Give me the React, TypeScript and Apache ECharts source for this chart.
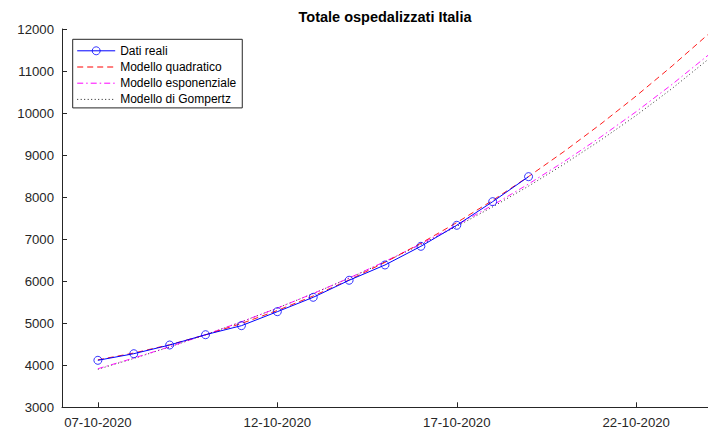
import React, { useEffect, useRef } from 'react';
import * as echarts from 'echarts';

const dates = [
  '06-10-2020', '07-10-2020', '08-10-2020', '09-10-2020', '10-10-2020', '11-10-2020',
  '12-10-2020', '13-10-2020', '14-10-2020', '15-10-2020', '16-10-2020', '17-10-2020',
  '18-10-2020', '19-10-2020', '20-10-2020', '21-10-2020', '22-10-2020', '23-10-2020',
  '24-10-2020',
];

const realData = [null, 4118, 4275, 4482, 4727, 4942, 5275, 5617, 6022, 6386, 6830, 7330, 7892, 8487, null, null, null, null, null];
const quadModel = [null, 4130, 4291, 4489, 4723, 4994, 5303, 5648, 6030, 6448, 6903, 7395, 7923, 8490, 9092, 9731, 10407, 11120, 11870];
const expModel = [null, 3918, 4171, 4441, 4728, 5034, 5360, 5707, 6076, 6469, 6888, 7334, 7808, 8313, 8851, 9424, 10034, 10683, 11374];
const gompModel = [null, 3905, 4162, 4436, 4726, 5034, 5361, 5706, 6072, 6460, 6870, 7305, 7768, 8262, 8790, 9350, 9945, 10585, 11275];

const seriesNames = ['Dati reali', 'Modello quadratico', 'Modello esponenziale', 'Modello di Gompertz'];
const titleText = 'Totale ospedalizzati Italia';

const FONT = '"Liberation Sans", Arial, Helvetica, sans-serif';
const AXIS = '#262626';

export default function App() {
  const ref = useRef<HTMLDivElement>(null);
  useEffect(() => {
    const chart = echarts.init(ref.current as HTMLDivElement, null, { renderer: 'svg' });
    const showTick = (i: number) => i >= 1 && (i - 1) % 5 === 0;
    chart.setOption({
      animation: false,
      backgroundColor: '#ffffff',
      textStyle: { fontFamily: FONT },
      title: {
        text: titleText,
        left: 385,
        top: 9.5,
        padding: 0,
        textAlign: 'center',
        textStyle: { fontFamily: FONT, fontSize: 14.5, fontWeight: 'bold', color: '#000000' },
      },
      grid: { left: 62, right: -5.3, top: 29, bottom: 24.7, containLabel: false },
      legend: {
        orient: 'vertical',
        left: 72.7,
        top: 39.3,
        data: [
          {
            name: seriesNames[0],
            itemStyle: { color: 'rgba(255,255,255,0)', borderColor: '#0000ff', borderWidth: 0.8 },
            lineStyle: { width: 1 },
          },
          { name: seriesNames[1], itemStyle: { opacity: 0 }, lineStyle: { width: 1 } },
          { name: seriesNames[2], itemStyle: { opacity: 0 }, lineStyle: { width: 1 } },
          { name: seriesNames[3], itemStyle: { opacity: 0 }, lineStyle: { width: 0.9 } },
        ],
        backgroundColor: '#ffffff',
        borderColor: AXIS,
        borderWidth: 1,
        padding: [5.5, 6, 2.5, 4],
        itemWidth: 38,
        itemHeight: 10,
        itemGap: 4.2,
        textStyle: { fontFamily: FONT, fontSize: 12, color: '#000000' },
      },
      xAxis: {
        type: 'category',
        data: dates,
        boundaryGap: false,
        axisLine: { show: true, lineStyle: { color: AXIS, width: 1 } },
        axisTick: { show: true, inside: true, length: 5, interval: (i: number) => showTick(i), lineStyle: { color: AXIS } },
        axisLabel: { interval: (i: number) => showTick(i), margin: 9, fontSize: 13.2, color: AXIS, fontFamily: FONT },
        splitLine: { show: false },
      },
      yAxis: {
        type: 'value',
        min: 3000,
        max: 12000,
        interval: 1000,
        axisLine: { show: true, lineStyle: { color: AXIS, width: 1 } },
        axisTick: { show: true, inside: true, length: 5, lineStyle: { color: AXIS } },
        axisLabel: { margin: 8, fontSize: 13.2, color: AXIS, fontFamily: FONT, formatter: (v: number) => String(v) },
        splitLine: { show: false },
      },
      series: [
        {
          name: seriesNames[0],
          type: 'line',
          data: realData,
          symbol: 'circle',
          symbolSize: 8,
          showSymbol: true,
          z: 5,
          color: '#0000ff',
          lineStyle: { color: '#0000ff', width: 1 },
          itemStyle: { color: 'rgba(255,255,255,0)', borderColor: '#0000ff', borderWidth: 0.8 },
        },
        {
          name: seriesNames[1],
          type: 'line',
          data: quadModel,
          symbol: 'none',
          z: 4,
          color: '#ff0000',
          lineStyle: { color: '#ff0000', width: 0.9, type: [6, 4] },
          itemStyle: { color: '#ff0000' },
        },
        {
          name: seriesNames[2],
          type: 'line',
          data: expModel,
          symbol: 'none',
          z: 3,
          color: '#ff00ff',
          lineStyle: { color: '#ff00ff', width: 0.9, type: [6, 3, 1.5, 3] },
          itemStyle: { color: '#ff00ff' },
        },
        {
          name: seriesNames[3],
          type: 'line',
          data: gompModel,
          symbol: 'none',
          z: 2,
          color: '#000000',
          lineStyle: { color: '#000000', width: 0.8, type: [1, 2.5] },
          itemStyle: { color: '#000000' },
        },
      ],
    });
    return () => chart.dispose();
  }, []);
  return (
    <div
      ref={ref}
      style={{ position: 'absolute', left: 0, top: 0, width: 708, height: 432, background: '#ffffff', overflow: 'hidden' }}
    />
  );
}
